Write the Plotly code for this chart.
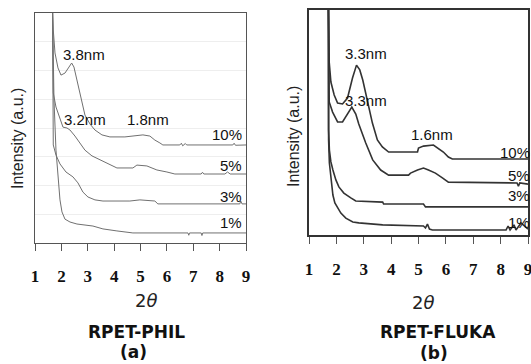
import plotly.graph_objects as go

# ---------------- Data: panel (a) RPET-PHIL ----------------
a_10_x = [1.663, 1.693, 1.758, 1.871, 1.985, 2.136, 2.288, 2.390, 2.477, 2.591, 2.742, 2.894, 3.083, 3.273, 3.538, 3.841, 4.409, 4.712, 5.091, 5.356, 5.545, 5.735, 5.848, 6.49, 6.55, 6.6, 6.7, 6.75, 8.5, 8.55, 8.6, 9.0]
a_10_y = [8.28, 7.41, 6.61, 6.09, 5.84, 5.91, 6.12, 6.26, 6.12, 5.67, 4.97, 4.45, 4.14, 3.93, 3.76, 3.69, 3.69, 3.72, 3.76, 3.72, 3.58, 3.48, 3.41, 3.41, 3.47, 3.38, 3.46, 3.41, 3.41, 3.47, 3.40, 3.41]

a_5_x = [1.663, 1.693, 1.795, 1.947, 2.061, 2.212, 2.326, 2.515, 2.705, 2.894, 3.159, 3.462, 3.727, 4.106, 4.712, 4.864, 5.242, 5.621, 6.0, 6.303, 7.3, 7.35, 7.4, 8.2, 8.3, 8.4, 9.0]
a_5_y = [8.28, 5.22, 4.73, 4.28, 4.03, 4.00, 3.93, 3.72, 3.48, 3.23, 3.03, 2.89, 2.78, 2.61, 2.61, 2.71, 2.68, 2.54, 2.47, 2.40, 2.40, 2.46, 2.40, 2.40, 2.47, 2.40, 2.40]

a_3_x = [1.663, 1.693, 1.795, 1.947, 2.174, 2.439, 2.629, 2.818, 3.008, 3.273, 3.576, 4.598, 4.977, 5.545, 5.659, 8.765, 8.8, 8.85, 9.0]
a_3_y = [8.28, 3.41, 3.06, 2.75, 2.47, 2.30, 2.09, 1.77, 1.60, 1.50, 1.46, 1.46, 1.50, 1.46, 1.36, 1.36, 1.46, 1.36, 1.36]

a_1_x = [1.663, 1.72, 1.795, 1.871, 1.947, 2.023, 2.136, 2.326, 2.591, 3.197, 3.576, 4.106, 4.712, 6.8, 6.83, 6.86, 7.3, 7.33, 7.36, 9.0]
a_1_y = [8.28, 4.97, 3.23, 2.19, 1.50, 1.08, 0.83, 0.73, 0.66, 0.59, 0.49, 0.42, 0.35, 0.35, 0.27, 0.35, 0.35, 0.26, 0.35, 0.35]

# ---------------- Data: panel (b) RPET-FLUKA ----------------
b_10_x = [1.709, 1.738, 1.80, 1.92, 2.044, 2.225, 2.407, 2.589, 2.735, 2.855, 2.964, 3.135, 3.316, 3.498, 3.68, 3.909, 4.964, 5.0, 5.182, 5.545, 5.727, 5.909, 6.091, 6.236, 9.0]
b_10_y = [8.18, 6.15, 5.44, 4.98, 4.69, 4.66, 4.87, 5.58, 6.04, 5.87, 5.51, 4.80, 3.98, 3.38, 3.13, 2.95, 2.95, 3.09, 3.16, 3.20, 3.09, 2.95, 2.77, 2.70, 2.70]

b_5_x = [1.709, 1.738, 1.862, 2.044, 2.225, 2.407, 2.564, 2.709, 2.818, 3.073, 3.327, 3.618, 3.909, 4.636, 4.709, 4.964, 5.182, 5.364, 5.618, 5.873, 6.091, 8.6, 8.65, 8.7, 9.0]
b_5_y = [8.18, 4.73, 4.37, 4.02, 4.02, 4.30, 4.55, 4.30, 3.95, 3.27, 2.67, 2.31, 2.13, 2.13, 2.20, 2.31, 2.38, 2.31, 2.20, 2.03, 1.88, 1.85, 1.74, 1.85, 1.81]

b_3_x = [1.709, 1.716, 1.745, 1.80, 1.873, 1.982, 2.091, 2.273, 2.527, 2.709, 3.691, 3.727, 5.182, 5.255, 9.0]
b_3_y = [8.18, 3.73, 3.02, 2.60, 2.31, 1.96, 1.71, 1.49, 1.32, 1.21, 1.17, 1.10, 1.10, 1.00, 1.00]

b_1_x = [1.709, 1.716, 1.745, 1.80, 1.873, 1.945, 2.055, 2.164, 2.345, 2.60, 2.818, 3.691, 5.182, 5.255, 5.327, 5.40, 5.509, 8.2, 8.273, 8.345, 8.49, 8.56, 8.745, 8.89, 9.0]
b_1_y = [8.18, 3.38, 2.56, 1.96, 1.42, 1.14, 0.96, 0.78, 0.60, 0.46, 0.43, 0.36, 0.32, 0.25, 0.39, 0.21, 0.18, 0.18, 0.32, 0.18, 0.36, 0.18, 0.43, 0.32, 0.21]

x_ticks = [1, 2, 3, 4, 5, 6, 7, 8, 9]
series_labels = ["10%", "5%", "3%", "1%"]
a_label_y = [3.76, 2.71, 1.63, 0.73]
b_label_y = [2.95, 2.13, 1.39, 0.46]
a_peaks = [("3.8nm", 2.86, 6.54), ("3.2nm", 2.89, 4.28), ("1.8nm", 5.28, 4.28)]
b_peaks = [("3.3nm", 3.07, 6.47), ("3.3nm", 3.07, 4.80), ("1.6nm", 5.51, 3.56)]

fig = go.Figure()

a_col = "#707070"
b_col = "#333333"
for xs, ys in [(a_10_x, a_10_y), (a_5_x, a_5_y), (a_3_x, a_3_y), (a_1_x, a_1_y)]:
    fig.add_trace(go.Scatter(x=xs, y=ys, mode="lines", line=dict(color=a_col, width=1),
                             xaxis="x", yaxis="y", showlegend=False, hoverinfo="skip"))
for xs, ys in [(b_10_x, b_10_y), (b_5_x, b_5_y), (b_3_x, b_3_y), (b_1_x, b_1_y)]:
    fig.add_trace(go.Scatter(x=xs, y=ys, mode="lines", line=dict(color=b_col, width=1.6),
                             xaxis="x2", yaxis="y2", showlegend=False, hoverinfo="skip"))

tickfont = dict(family="Liberation Serif", size=17, color="#111111")
common_x = dict(range=[1, 9], tickvals=x_ticks, ticktext=["<b>%d</b>" % t for t in x_ticks],
                ticks="outside", ticklen=7, tickcolor="#555555", showgrid=False,
                zeroline=False, mirror=True, showline=True, tickfont=tickfont, automargin=False,
                ticklabeloverflow="allow")

fig.update_layout(
    width=531, height=364,
    margin=dict(l=0, r=0, t=0, b=0, autoexpand=False),
    paper_bgcolor="white", plot_bgcolor="white",
    xaxis=dict(domain=[35/531, 246/531], anchor="y", linecolor="#555555", linewidth=1,
               ticklabelstandoff=11, **common_x),
    yaxis=dict(domain=[1-243/364, 1-13/364], anchor="x", range=[0, 8], dtick=1, automargin=False,
               showticklabels=False, ticks="", showgrid=True, gridcolor="#eeeeee", gridwidth=1,
               zeroline=False, showline=True, mirror=True, linecolor="#555555", linewidth=1),
    xaxis2=dict(domain=[309/531, 528/531], anchor="y2", linecolor="#333333", linewidth=1.5,
                ticklabelstandoff=11, **common_x),
    yaxis2=dict(domain=[1-235/364, 1-10/364], anchor="x2", range=[0, 8], automargin=False,
                showticklabels=False, ticks="", showgrid=False,
                zeroline=False, showline=True, mirror=True, linecolor="#333333", linewidth=1.5),
)

ann = []
lab_font = dict(family="Liberation Sans", size=15, color="#111111")
for txt, x, y in a_peaks:
    ann.append(dict(text=txt, x=x, y=y, xref="x", yref="y", xanchor="center", yanchor="middle",
                    showarrow=False, font=lab_font))
for txt, x, y in b_peaks:
    ann.append(dict(text=txt, x=x, y=y, xref="x2", yref="y2", xanchor="center", yanchor="middle",
                    showarrow=False, font=lab_font))
for txt, y in zip(series_labels, a_label_y):
    ann.append(dict(text=txt, x=8.93, y=y, xref="x", yref="y", xanchor="right", yanchor="middle",
                    showarrow=False, font=lab_font))
for txt, y in zip(series_labels, b_label_y):
    ann.append(dict(text=txt, x=9.0, y=y, xref="x2", yref="y2", xanchor="right", yanchor="middle",
                    xshift=4, showarrow=False, font=lab_font))

def paper_text(txt, px, py, font, angle=0):
    return dict(text=txt, x=px/531, y=1-py/364, xref="paper", yref="paper", xanchor="center",
                yanchor="middle", textangle=angle, showarrow=False, font=font)

ytitle_font = dict(family="Liberation Sans", size=16, color="#222222")
ann.append(paper_text("Intensity (a.u.)", 17, 139, ytitle_font, -90))
ann.append(paper_text("Intensity (a.u.)", 293, 137, ytitle_font, -90))

xt_font = dict(family="DejaVu Sans", size=18, color="#222222")
ann.append(paper_text("2<i>θ</i>", 146, 300, xt_font))
ann.append(paper_text("2<i>θ</i>", 423, 302, xt_font))

ttl_font = dict(family="DejaVu Sans", size=17, color="#111111")
ann.append(paper_text("<b>RPET-PHIL</b>", 137, 332, ttl_font))
ann.append(paper_text("<b>(a)</b>", 133, 352, ttl_font))
ann.append(paper_text("<b>RPET-FLUKA</b>", 438, 332, ttl_font))
ann.append(paper_text("<b>(b)</b>", 434, 353, ttl_font))

fig.update_layout(annotations=ann)
fig.write_html("out.html", config={"displayModeBar": False},
               post_script="document.body.style.margin='0';document.body.style.overflow='hidden';")
